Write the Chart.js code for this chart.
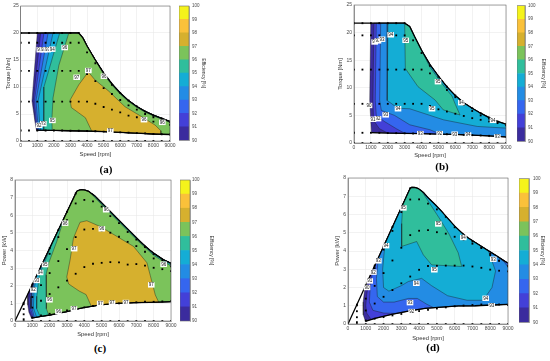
<!DOCTYPE html>
<html>
<head>
<meta charset="utf-8">
<script src="https://cdn.jsdelivr.net/npm/chart.js@4.4.1/dist/chart.umd.min.js"></script>
<style>
  body { margin: 0; background: #fff; }
  #fig { position: relative; width: 550px; height: 361px; overflow: hidden; background: #fff; }
  #fig canvas { position: absolute; }
  .tag { position: absolute; font: bold 11px "Liberation Serif", "DejaVu Serif", serif; color: #000; transform: translate(-50%, -50%); }
</style>
</head>
<body>
<div id="fig">
  <canvas id="pa" width="182" height="158" style="left:0px;top:0px"></canvas>
  <canvas id="pb" width="188" height="159" style="left:330px;top:0px"></canvas>
  <canvas id="pc" width="183" height="168" style="left:0px;top:170px"></canvas>
  <canvas id="pd" width="190" height="172" style="left:330px;top:170px"></canvas>
  <canvas id="ca" width="27" height="146" style="left:179px;top:0px"></canvas>
  <canvas id="cb" width="29" height="147" style="left:517px;top:0px"></canvas>
  <canvas id="cc" width="34" height="154" style="left:180px;top:172px"></canvas>
  <canvas id="cd" width="26" height="157" style="left:519px;top:172px"></canvas>
  <div class="tag" style="left:106px;top:169px">(a)</div>
  <div class="tag" style="left:442px;top:166px">(b)</div>
  <div class="tag" style="left:100px;top:348px">(c)</div>
  <div class="tag" style="left:433px;top:347px">(d)</div>
</div>
<script>
Chart.defaults.font.family = '"Liberation Sans", Arial, sans-serif';

// efficiency bands 90..100 %
const effLevels = [90, 91, 92, 93, 94, 95, 96, 97, 98, 99];
const effColors = ['#3b2c9e', '#4340d8', '#3566ef', '#238ce4', '#14add5', '#30be9c', '#7bc35b', '#d6b02e', '#fac13a', '#f5f31b'];
const effTicks = [90, 91, 92, 93, 94, 95, 96, 97, 98, 99, 100];

// measured operating points, one value per speed step
const gridSpeeds = [0, 500, 1000, 1500, 2000, 2500, 3000, 3500, 4000, 4500, 5000, 5500, 6000, 6500, 7000, 7500, 8000, 8500, 9000];
const rowZero = [0, 0, 0, 0, 0, 0, 0, 0, 0, 0, 0, 0, 0, 0, 0, 0, 0, 0, 0];

// ---- (a) torque map, motor 1
const aLimitTop = [[1000, 20], [3500, 20], [3750, 19.1], [4000, 17.6], [4500, 15], [5000, 12.6], [5500, 10.6], [6000, 8.9], [6500, 7.5], [7000, 6.4], [7500, 5.5], [8000, 4.8], [8500, 4.2], [9000, 3.6]];
const aLimitLow = [[950, 2.0], [2000, 1.95], [3000, 1.9], [4000, 1.85], [5000, 1.75], [6000, 1.6], [7000, 1.45], [8000, 1.3], [9000, 1.2]];
const aEdge = [[1000, 20], [680, 7.4], [860, 3.6], [950, 2.0]];
const aIso91 = [[1200, 20], [760, 7.5], [900, 3.0], [980, 1.99]];
const aIso92 = [[1400, 20], [830, 7.5], [960, 3.0], [1030, 1.99]];
const aIso93 = [[1650, 20], [920, 7.5], [1040, 3.0], [1100, 1.98]];
const aIso94 = [[1950, 20], [1050, 7.5], [1150, 3.0], [1200, 1.98]];
const aIso95 = [[2350, 20], [1400, 10], [1380, 5], [1400, 1.97]];
const aIso96 = [[2900, 20], [2300, 14], [1950, 8], [1880, 4], [1900, 1.96]];
const aIso97 = [[4280, 1.83], [3900, 4.3], [3500, 5.2], [3050, 6.2], [2980, 7.6], [3500, 10.4], [4075, 12.8], [4479, 11.3], [5281, 9.3], [6288, 6.35], [7294, 4.5], [8096, 2.96], [8450, 1.9], [8450, 1.24]];
const aStrip95 = [[4300, 16.0], [5000, 12.35], [5500, 10.35], [6000, 8.68], [6500, 7.3], [7000, 6.22], [7500, 5.34], [8000, 4.64], [8500, 4.05], [9000, 3.45]];
const aRowLow = [1.95, 1.95, 1.95, 1.95, 1.95, 1.95, 1.9, 1.9, 1.85, 1.8, 1.75, 1.7, 1.6, 1.55, 1.45, 1.4, 1.3, 1.25, 1.2];
const aRow7 = [7.3, 7.3, 7.3, 7.3, 7.3, 7.3, 7.3, 7.3, 7.3, 6.9, 6.3, 5.8, 5.3, 4.7, 4.4, 4.0, 3.6, 3.3, 3.0];
const aRow13 = [13, 13, 13, 13, 13, 13, 13, 13, 12.4, 11.1, 9.8, 8.7, 7.6, 6.6, 5.8, 5.0, 4.4, 3.9, 3.45];
const aRow18 = [18.2, 18.2, 18.2, 18.2, 18.2, 18.2, 18.2, 18.2, 16.4, 14.4, 12.4, 10.4, 8.9, 7.5, 6.4, 5.5, 4.7, 4.2, 3.6];
const aRowTop = [20, 20, 20, 20, 20, 20, 20, 20, null, null, null, null, null, null, null, null, null, null, null];
const aTags = [[1150, 16.9, '91'], [1380, 16.9, '92'], [1620, 16.9, '93'], [1900, 17.0, '94'], [2650, 17.3, '96'], [3375, 11.8, '97'], [4078, 13.05, '97'], [5022, 12.0, '96'], [7433, 3.94, '96'], [8538, 3.45, '96'], [1909, 3.8, '95'], [1366, 3.2, '93'], [1105, 2.9, '92'], [5400, 1.85, '97']];

// ---- (b) torque map, motor 2
const bLimitTop = [[990, 21.7], [3000, 21.7], [3300, 21.1], [3600, 19.2], [4000, 16.8], [4500, 14.2], [5000, 12.1], [5500, 10.2], [6000, 8.6], [6500, 7.3], [7000, 6.3], [7500, 5.4], [8000, 4.6], [8500, 3.9], [9000, 3.4]];
const bLimitLow = [[1030, 1.88], [2000, 1.8], [3000, 1.75], [4000, 1.7], [5000, 1.62], [6000, 1.55], [7000, 1.42], [8000, 1.3], [9000, 1.1]];
const bEdge = [[990, 21.7], [930, 7.7], [1030, 1.88]];
const bIso91 = [[1180, 21.7], [1120, 7.7], [1160, 4.1], [1500, 2.6], [2000, 1.8]];
const bIso92 = [[1320, 21.7], [1260, 7.7], [1320, 5.0], [1800, 3.9], [2500, 2.6], [3000, 1.75]];
const bIso93 = [[1580, 21.7], [1520, 7.7], [1620, 5.9], [2400, 5.0], [3300, 3.3], [4500, 2.4], [5100, 1.61]];
const bIso94 = [[2010, 21.7], [1975, 17.4], [1955, 7.7], [2600, 6.3], [3300, 6.2], [4200, 5.3], [5300, 4.2], [7300, 3.0], [9000, 2.7]];
const bIso95 = [[3000, 21.7], [3040, 13.5], [3790, 10.2], [4796, 7.8], [5288, 6.0], [6276, 5.07], [6000, 7.0], [5800, 8.5], [5200, 10.8], [4480, 13.8], [4000, 16.8]];
const bRowLow = [1.85, 1.85, 1.85, 1.85, 1.8, 1.78, 1.75, 1.72, 1.7, 1.66, 1.62, 1.58, 1.55, 1.48, 1.42, 1.36, 1.3, 1.2, 1.1];
const bRow7 = [7.1, 7.1, 7.1, 7.1, 7.1, 7.1, 7.1, 7.1, 7.1, 6.7, 6.1, 5.7, 5.3, 4.9, 4.5, 4.2, 3.9, 3.6, 3.2];
const bRow13 = [13.3, 13.3, 13.3, 13.3, 13.3, 13.3, 13.3, 13.3, 13.3, 12.6, 11.1, 9.6, 8.3, 6.9, 5.8, 5.0, 4.4, 3.8, 3.3];
const bRow19 = [19.5, 19.5, 19.5, 19.5, 19.5, 19.5, 19.5, 18.6, 16.3, 14.0, 12.0, 10.2, 8.6, 7.3, 6.3, 5.4, 4.6, 3.9, 3.4];
const bRowTop = [21.7, 21.7, 21.7, 21.7, 21.7, 21.7, 21.7, null, null, null, null, null, null, null, null, null, null, null, null];
const bTags = [[1224, 18.3, '91'], [1421, 18.5, '92'], [1658, 18.8, '93'], [2171, 19.6, '94'], [3060, 18.6, '95'], [4974, 11.1, '95'], [6356, 7.3, '94'], [4619, 6.2, '95'], [2606, 6.2, '94'], [1875, 5.1, '93'], [1421, 4.4, '92'], [1125, 4.3, '91'], [888, 6.8, '90'], [3928, 1.7, '93'], [5073, 1.7, '92'], [5961, 1.6, '93'], [6751, 1.45, '94'], [8488, 1.1, '93'], [8231, 4.1, '94']];

// ---- (c) power map, motor 1
const cLimitTop = [[720, 1.49], [3565, 7.36], [3700, 7.42], [3854, 7.45], [4050, 7.42], [4240, 7.36], [4600, 7.1], [4914, 6.79], [5300, 6.42], [5685, 6.03], [6455, 5.27], [7226, 4.51], [7600, 4.17], [7997, 3.85], [8575, 3.47], [9000, 3.28]];
const cLimitLow = [[950, 0.16], [1500, 0.26], [2023, 0.34], [2500, 0.44], [2987, 0.53], [3500, 0.66], [3950, 0.76], [4500, 0.85], [4914, 0.91], [5400, 0.96], [5877, 1.0], [6841, 1.04], [7804, 1.06], [9000, 1.1]];
const cEdge = [[720, 1.49], [740, 0.9], [800, 0.5], [950, 0.16]];
const cIso91 = [[900, 1.86], [800, 1.2], [840, 0.6], [1000, 0.17]];
const cIso92 = [[1000, 2.07], [880, 1.4], [900, 0.7], [1060, 0.18]];
const cIso93 = [[1120, 2.31], [980, 1.6], [960, 0.8], [1120, 0.19]];
const cIso94 = [[1268, 2.62], [1100, 1.8], [1060, 0.75], [1250, 0.21]];
const cIso95 = [[2184, 4.51], [1700, 3.3], [1407, 2.62], [1260, 1.4], [1250, 0.7], [1450, 0.25]];
const cIso96 = [[2850, 5.89], [2409, 4.51], [1950, 3.3], [1792, 2.62], [1790, 1.6], [1830, 0.7], [1950, 0.33]];
const cIso97 = [[4400, 0.84], [4100, 1.5], [3700, 1.7], [3100, 2.1], [2987, 2.5], [3180, 3.47], [3372, 4.7], [3750, 5.6], [4143, 5.69], [4914, 5.36], [5877, 4.8], [6841, 4.23], [7612, 3.3], [7800, 2.6], [8093, 1.48], [8290, 1.07]];
const cStrip95 = [[4300, 7.32], [5000, 6.6], [6000, 5.6], [7000, 4.62], [8000, 3.72], [9000, 3.12]];
const cStrip94 = [[4700, 7.0], [5000, 6.67], [6000, 5.68], [7000, 4.69], [8000, 3.8], [9000, 3.21]];
const cRowLow = [0, 0.10, 0.20, 0.31, 0.41, 0.51, 0.60, 0.70, 0.77, 0.85, 0.92, 0.98, 1.0, 1.05, 1.06, 1.1, 1.09, 1.11, 1.13];
const cRow7 = [0, 0.38, 0.76, 1.15, 1.53, 1.91, 2.29, 2.68, 3.06, 3.25, 3.30, 3.34, 3.33, 3.2, 3.23, 3.14, 3.02, 2.94, 2.83];
const cRow13 = [0, 0.68, 1.36, 2.04, 2.72, 3.40, 4.08, 4.76, 5.19, 5.23, 5.13, 5.01, 4.78, 4.49, 4.25, 3.93, 3.55, 3.3, 3.1];
const cRow18 = [0, 0.95, 1.91, 2.86, 3.81, 4.76, 5.72, 6.67, 6.87, 6.79, 6.49, 5.95, 5.55, 5.05, 4.62, 4.2, 3.8, 3.45, 3.25];
const cRowTop = [0, 1.03, 2.07, 3.10, 4.13, 5.16, 6.2, 7.23, null, null, null, null, null, null, null, null, null, null, null];
const cTags = [[2890, 5.55, '96'], [3411, 4.1, '97'], [1734, 3.2, '95'], [1450, 2.75, '94'], [1250, 2.3, '93'], [1060, 1.76, '92'], [1985, 1.2, '96'], [5010, 5.23, '96'], [5261, 6.31, '96'], [7862, 2.05, '97'], [8575, 3.22, '96'], [2505, 0.53, '96'], [3400, 0.7, '97'], [4914, 1.0, '97'], [5600, 1.02, '97'], [6400, 1.05, '97']];

// ---- (d) power map, motor 2
const dLimitTop = [[956, 2.03], [3488, 7.42], [3581, 7.49], [3760, 7.48], [3956, 7.42], [4250, 7.2], [4519, 6.9], [4900, 6.55], [5269, 6.17], [5650, 5.75], [6019, 5.35], [6400, 5.0], [6769, 4.71], [7519, 4.25], [8269, 3.79], [9000, 3.33]];
const dLimitLow = [[980, 0.15], [1519, 0.31], [2456, 0.53], [3394, 0.71], [4331, 0.86], [5269, 0.93], [6206, 0.99], [7144, 1.0], [8081, 1.04], [9000, 1.08]];
const dEdge = [[956, 2.03], [850, 1.2], [860, 0.5], [980, 0.15]];
const dIso91 = [[1219, 2.59], [1050, 1.6], [1000, 1.0], [1050, 0.6], [1300, 0.25]];
const dIso92 = [[1388, 2.95], [1250, 2.0], [1200, 1.2], [1400, 0.75], [2000, 0.6], [2700, 0.58]];
const dIso93 = [[1706, 3.63], [1600, 2.5], [1650, 1.5], [2000, 1.2], [2600, 1.2], [3400, 1.4], [3900, 1.4], [4400, 1.1], [4800, 0.9]];
const dIso94 = [[2081, 4.43], [1950, 3.0], [2000, 2.0], [2300, 1.8], [3000, 2.1], [3400, 2.33], [4144, 2.5], [4700, 2.1], [5600, 1.55], [6700, 1.3], [7600, 1.3], [8100, 2.0], [8300, 2.9], [7900, 4.0]];
const dIso95 = [[3080, 6.55], [3019, 5.5], [3019, 4.25], [3863, 4.52], [4238, 3.79], [4706, 3.24], [6394, 3.15], [6200, 3.9], [5700, 4.9], [5200, 5.7], [4600, 6.6], [4150, 7.27]];
const dStrip92 = [[8500, 3.64], [8800, 3.38], [9000, 3.12]];
const dRowLow = [0, 0.10, 0.19, 0.29, 0.38, 0.47, 0.55, 0.63, 0.71, 0.78, 0.85, 0.91, 0.97, 1.01, 1.04, 1.07, 1.09, 1.07, 1.04];
const dRow7 = [0, 0.37, 0.74, 1.12, 1.49, 1.86, 2.23, 2.60, 2.97, 3.18, 3.19, 3.2, 3.2, 3.2, 3.15, 3.08, 2.98, 2.92, 2.88];
const dRow13 = [0, 0.70, 1.39, 2.09, 2.79, 3.48, 4.18, 4.87, 5.11, 5.14, 5.03, 4.95, 4.78, 4.63, 4.40, 4.16, 3.77, 3.47, 3.16];
const dRow19 = [0, 1.02, 2.04, 3.06, 4.08, 5.1, 6.13, 6.82, 6.83, 6.6, 6.28, 5.87, 5.3, 4.88, 4.52, 4.2, 3.85, 3.47, 3.2];
const dRowTop = [0, 1.06, 2.13, 3.19, 4.25, 5.32, 6.38, 7.44, null, null, null, null, null, null, null, null, null, null, null];
const dTags = [[3113, 6.36, '95'], [5081, 5.48, '95'], [6488, 4.74, '94'], [8175, 3.55, '93'], [2138, 4.29, '94'], [1706, 3.46, '93'], [1425, 2.84, '92'], [1219, 2.36, '91'], [1069, 2.0, '90'], [3844, 2.23, '94'], [4856, 2.97, '95'], [3488, 1.17, '93'], [3581, 0.68, '92'], [7744, 1.41, '94'], [8081, 1.0, '93']];

// ---- polygon helpers (regions are closed against the operating limits)
const rev = a => a.slice().reverse();
function fromLeft(line, top, low) {
  const a = line[0][0], b = line[line.length - 1][0];
  return [...line, ...low.filter(p => p[0] > b), ...rev(top).filter(p => p[0] > a)];
}
function onTop(line, top) {
  const a = line[0][0], b = line[line.length - 1][0];
  return [...line, ...rev(top).filter(p => p[0] > a && p[0] <= b)];
}
function onLow(line, low) {
  const a = line[0][0], b = line[line.length - 1][0];
  return [...line, ...rev(low).filter(p => p[0] > a && p[0] < b)];
}
function gridDots(rows) {
  const out = [];
  rows.forEach(r => r.forEach((v, i) => { if (v !== null) out.push({ x: gridSpeeds[i], y: v }); }));
  return out;
}

const frame = {
  id: 'frame',
  afterDatasetsDraw(chart) {
    const { ctx, chartArea: c } = chart;
    ctx.save();
    ctx.strokeStyle = '#6a6a6a';
    ctx.lineWidth = 0.6;
    ctx.strokeRect(c.left, c.top, c.right - c.left, c.bottom - c.top);
    ctx.restore();
  }
};

function makeTags(items) {
  return {
    id: 'isoTags',
    afterDatasetsDraw(chart) {
      const { ctx, scales: { x, y } } = chart;
      ctx.save();
      ctx.font = '4.5px "Liberation Sans", Arial, sans-serif';
      ctx.textAlign = 'center';
      ctx.textBaseline = 'middle';
      items.forEach(([s, v, t]) => {
        const px = x.getPixelForValue(s), py = y.getPixelForValue(v);
        const w = ctx.measureText(t).width + 1.6;
        ctx.fillStyle = '#fff';
        ctx.fillRect(px - w / 2, py - 2.7, w, 5.4);
        ctx.fillStyle = '#111';
        ctx.fillText(t, px, py + 0.2);
      });
      ctx.restore();
    }
  };
}

const plainNum = v => String(v);

function drawPanel(id, p) {
  const datasets = [];
  p.shapes.forEach(([lv, pts], i) => {
    const data = pts.map(([x, y]) => ({ x, y }));
    data.push(data[0]);
    datasets.push({
      data, fill: 'shape', backgroundColor: effColors[lv - 90],
      borderColor: 'rgba(25,25,25,0.8)', borderWidth: 0.5, pointRadius: 0, tension: 0, order: 100 - i
    });
  });
  p.limits.forEach(l => datasets.push({
    data: l.map(([x, y]) => ({ x, y })), fill: false, borderColor: '#000', borderWidth: 1.3, pointRadius: 0, tension: 0, order: 1
  }));
  datasets.push({
    data: gridDots(p.rows), showLine: false, pointStyle: 'rect', pointRadius: 1.3,
    backgroundColor: '#000', borderWidth: 0, order: 0
  });
  const tickFont = { size: 5 };
  new Chart(document.getElementById(id), {
    type: 'line',
    data: { datasets },
    options: {
      responsive: false, animation: false, events: [], devicePixelRatio: 1,
      layout: { padding: p.pad },
      plugins: { legend: { display: false }, tooltip: { enabled: false } },
      scales: {
        x: {
          type: 'linear', min: 0, max: 9000,
          afterFit: s => { s.height = p.xh; },
          ticks: { stepSize: 1000, autoSkip: false, maxRotation: 0, font: tickFont, color: '#4a4a4a', padding: 2, callback: plainNum },
          grid: { color: '#e4e4e4', lineWidth: 0.5, drawTicks: false },
          border: { color: '#6a6a6a', width: 0.6 },
          title: { display: true, text: 'Speed [rpm]', font: { size: 5.8 }, color: '#333', padding: 0 }
        },
        y: {
          type: 'linear', min: 0, max: p.ymax,
          afterFit: s => { s.width = p.yw; },
          ticks: { stepSize: p.ystep, autoSkip: false, font: tickFont, color: '#4a4a4a', padding: 2, callback: plainNum },
          grid: { color: '#e4e4e4', lineWidth: 0.5, drawTicks: false },
          border: { color: '#6a6a6a', width: 0.6 },
          title: { display: true, text: p.ytitle, font: { size: 5.8 }, color: '#333', padding: 0 }
        }
      }
    },
    plugins: [frame, makeTags(p.tags)]
  });
}

function drawColorbar(id, c) {
  new Chart(document.getElementById(id), {
    type: 'bar',
    data: {
      labels: [''],
      datasets: effLevels.map((lv, i) => ({
        data: [[lv, lv + 1]], backgroundColor: effColors[i], borderWidth: 0,
        barPercentage: 1, categoryPercentage: 1, grouped: false
      }))
    },
    options: {
      responsive: false, animation: false, events: [], devicePixelRatio: 1,
      layout: { padding: c.pad },
      plugins: { legend: { display: false }, tooltip: { enabled: false } },
      scales: {
        x: { display: false },
        y: {
          position: 'right', min: 90, max: 100,
          afterFit: s => { s.width = c.yw; },
          afterBuildTicks: s => { s.ticks = effTicks.map(v => ({ value: v })); },
          ticks: { font: { size: 4.5 }, color: '#4a4a4a', padding: c.tp, callback: plainNum },
          grid: { display: false, drawTicks: false },
          border: { color: '#6a6a6a', width: 0.5 },
          title: { display: true, text: 'Efficiency [%]', font: { size: 5 }, color: '#333', padding: 0 }
        }
      }
    },
    plugins: [frame]
  });
}

drawPanel('pa', {
  shapes: [
    [90, fromLeft(aEdge, aLimitTop, aLimitLow)],
    [91, fromLeft(aIso91, aLimitTop, aLimitLow)],
    [92, fromLeft(aIso92, aLimitTop, aLimitLow)],
    [93, fromLeft(aIso93, aLimitTop, aLimitLow)],
    [94, fromLeft(aIso94, aLimitTop, aLimitLow)],
    [95, fromLeft(aIso95, aLimitTop, aLimitLow)],
    [96, fromLeft(aIso96, aLimitTop, aLimitLow)],
    [95, onTop(aStrip95, aLimitTop)],
    [97, onLow(aIso97, aLimitLow)]
  ],
  limits: [[[0, 20], ...aLimitTop.slice(1)], aLimitLow],
  rows: [rowZero, aRowLow, aRow7, aRow13, aRow18, aRowTop],
  tags: aTags, ymax: 25, ystep: 5, ytitle: 'Torque [Nm]',
  pad: { left: 4.8, top: 6, right: 12, bottom: 0 }, yw: 15.9, xh: 17
});

drawPanel('pb', {
  shapes: [
    [90, fromLeft(bEdge, bLimitTop, bLimitLow)],
    [91, fromLeft(bIso91, bLimitTop, bLimitLow)],
    [92, fromLeft(bIso92, bLimitTop, bLimitLow)],
    [93, fromLeft(bIso93, bLimitTop, bLimitLow)],
    [94, fromLeft(bIso94, bLimitTop, bLimitLow)],
    [95, onTop(bIso95, bLimitTop)]
  ],
  limits: [[[0, 21.7], ...bLimitTop.slice(1)], bLimitLow],
  rows: [rowZero, bRowLow, bRow7, bRow13, bRow19, bRowTop],
  tags: bTags, ymax: 25, ystep: 5, ytitle: 'Torque [Nm]',
  pad: { left: 6.5, top: 5, right: 12, bottom: 0 }, yw: 17.5, xh: 16
});

drawPanel('pc', {
  shapes: [
    [90, fromLeft(cEdge, cLimitTop, cLimitLow)],
    [91, fromLeft(cIso91, cLimitTop, cLimitLow)],
    [92, fromLeft(cIso92, cLimitTop, cLimitLow)],
    [93, fromLeft(cIso93, cLimitTop, cLimitLow)],
    [94, fromLeft(cIso94, cLimitTop, cLimitLow)],
    [95, fromLeft(cIso95, cLimitTop, cLimitLow)],
    [96, fromLeft(cIso96, cLimitTop, cLimitLow)],
    [95, onTop(cStrip95, cLimitTop)],
    [94, onTop(cStrip94, cLimitTop)],
    [97, onLow(cIso97, cLimitLow)]
  ],
  limits: [[[0, 0], ...cLimitTop.slice(1)], cLimitLow],
  rows: [rowZero, cRowLow, cRow7, cRow13, cRow18, cRowTop],
  tags: cTags, ymax: 8, ystep: 1, ytitle: 'Power [kW]',
  pad: { left: 0.5, top: 10, right: 12, bottom: 0 }, yw: 14.5, xh: 17
});

drawPanel('pd', {
  shapes: [
    [90, fromLeft(dEdge, dLimitTop, dLimitLow)],
    [91, fromLeft(dIso91, dLimitTop, dLimitLow)],
    [92, fromLeft(dIso92, dLimitTop, dLimitLow)],
    [93, fromLeft(dIso93, dLimitTop, dLimitLow)],
    [94, onTop(dIso94, dLimitTop)],
    [92, onTop(dStrip92, dLimitTop)],
    [95, onTop(dIso95, dLimitTop)]
  ],
  limits: [[[0, 0], ...dLimitTop.slice(1)], dLimitLow],
  rows: [rowZero, dRowLow, dRow7, dRow13, dRow19, dRowTop],
  tags: dTags, ymax: 8, ystep: 1, ytitle: 'Power [kW]',
  pad: { left: 4.2, top: 8, right: 12, bottom: 0 }, yw: 13.8, xh: 18
});

drawColorbar('ca', { pad: { left: 0, top: 6, right: 0, bottom: 5 }, yw: 17, tp: 3 });
drawColorbar('cb', { pad: { left: 0, top: 5, right: 0, bottom: 5 }, yw: 21, tp: 3 });
drawColorbar('cc', { pad: { left: 0, top: 8, right: 0, bottom: 5 }, yw: 24, tp: 2 });
drawColorbar('cd', { pad: { left: 0, top: 6, right: 0, bottom: 5 }, yw: 16, tp: 4 });
</script>
</body>
</html>
